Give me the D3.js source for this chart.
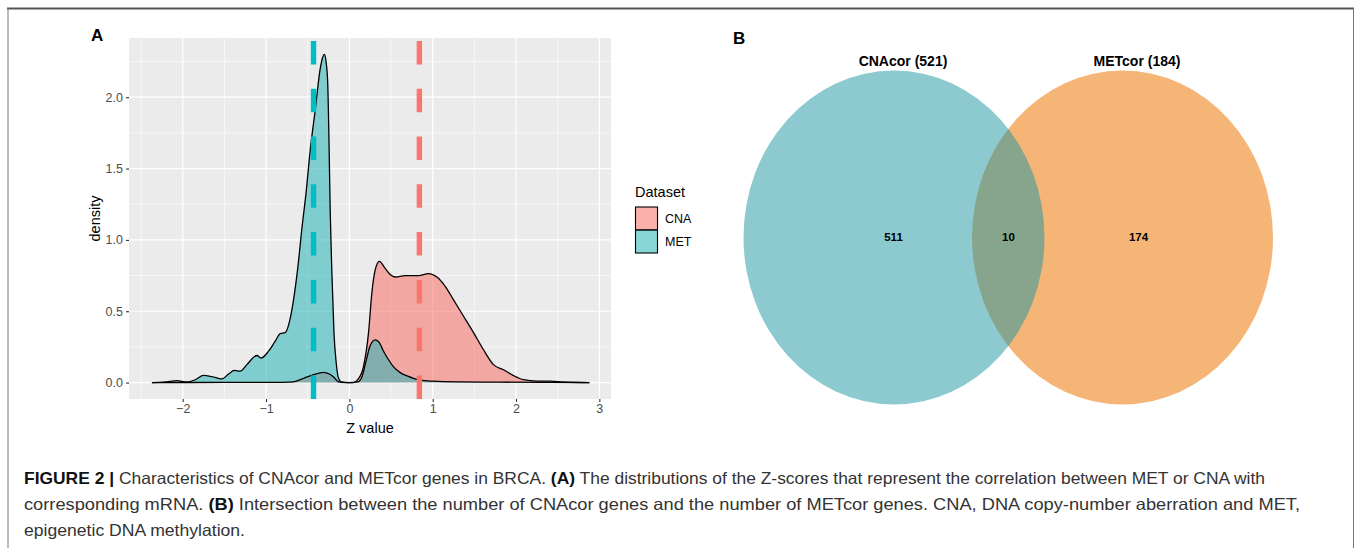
<!DOCTYPE html>
<html>
<head>
<meta charset="utf-8">
<script src="https://cdn.jsdelivr.net/npm/d3@7"></script>
<style>
  body { margin: 0; background: #fff; }
  svg text { font-family: "Liberation Sans", Arial, sans-serif; }
</style>
</head>
<body>
<div id="fig"></div>
<script>
// ---- data ----
const datasets = ["CNA", "MET"];
const metZ = [-2.37, -2.2, -2.07, -1.95, -1.85, -1.75, -1.65, -1.53, -1.45, -1.38, -1.31, -1.23, -1.11, -1.06, -0.97, -0.89, -0.83, -0.77, -0.71, -0.66, -0.62, -0.57, -0.52, -0.47, -0.41, -0.35, -0.32, -0.30, -0.28, -0.26, -0.245, -0.23, -0.21, -0.185, -0.16, -0.13, -0.10, 0.0, 0.10, 0.15, 0.20, 0.25, 0.31, 0.36, 0.41, 0.47, 0.53, 0.61, 0.70, 0.77, 0.87, 1.0, 1.3, 1.8, 2.4, 2.88];
const metDensity = [0, 0.005, 0.014, 0.004, 0.02, 0.05, 0.042, 0.026, 0.06, 0.085, 0.08, 0.126, 0.19, 0.172, 0.22, 0.29, 0.343, 0.35, 0.45, 0.62, 0.80, 1.08, 1.33, 1.63, 1.91, 2.20, 2.28, 2.30, 2.25, 2.10, 1.70, 1.20, 0.77, 0.35, 0.15, 0.03, 0.005, 0, 0.005, 0.04, 0.15, 0.26, 0.30, 0.28, 0.22, 0.16, 0.11, 0.07, 0.045, 0.03, 0.015, 0.01, 0.005, 0.003, 0.001, 0];
const cnaZ = [-2.37, -1.5, -0.8, -0.67, -0.55, -0.43, -0.31, -0.24, -0.19, -0.13, -0.05, 0.05, 0.10, 0.17, 0.23, 0.27, 0.31, 0.36, 0.43, 0.49, 0.55, 0.67, 0.83, 0.95, 1.05, 1.15, 1.25, 1.37, 1.49, 1.61, 1.73, 1.85, 1.97, 2.09, 2.25, 2.41, 2.57, 2.88];
const cnaDensity = [0, 0.001, 0.002, 0.005, 0.03, 0.056, 0.072, 0.06, 0.04, 0.005, 0, 0, 0.02, 0.114, 0.35, 0.63, 0.79, 0.85, 0.80, 0.757, 0.74, 0.75, 0.75, 0.764, 0.74, 0.675, 0.58, 0.465, 0.35, 0.23, 0.126, 0.09, 0.049, 0.02, 0.01, 0.01, 0.004, 0];
const meanZ = { CNA: 0.84, MET: -0.43 };
const xTicks = [-2, -1, 0, 1, 2, 3];
const yTicks = [0, 0.5, 1.0, 1.5, 2.0];

const vennSets = ["CNAcor (521)", "METcor (184)"];
const vennRegions = [511, 10, 174];

const captionLines = [
  [["FIGURE 2 |", true], [" Characteristics of CNAcor and METcor genes in BRCA. ", false], ["(A)", true], [" The distributions of the Z-scores that represent the correlation between MET or CNA with", false]],
  [["corresponding mRNA. ", false], ["(B)", true], [" Intersection between the number of CNAcor genes and the number of METcor genes. CNA, DNA copy-number aberration and MET,", false]],
  [["epigenetic DNA methylation.", false]]
];

// ---- layout ----
const W = 1357, H = 548;
const panel = { left: 129, right: 611, top: 38, bottom: 399 };
const colors = { CNA: "#F8766D", MET: "#00BFC4" };
const fills = { CNA: "#F86F66", MET: "#28B4BA" };

const svg = d3.select("#fig").append("svg").attr("width", W).attr("height", H);

// figure frame
svg.append("line").attr("x1", 7).attr("x2", 1354).attr("y1", 8.5).attr("y2", 8.5).attr("stroke", "#555").attr("stroke-width", 2);
svg.append("line").attr("x1", 8).attr("x2", 8).attr("y1", 8).attr("y2", H).attr("stroke", "#777").attr("stroke-width", 1);
svg.append("line").attr("x1", 1353.5).attr("x2", 1353.5).attr("y1", 8).attr("y2", H).attr("stroke", "#777").attr("stroke-width", 1);

// ---- panel A ----
const x = d3.scaleLinear().domain([-2.645, 3.14]).range([panel.left, panel.right]);
const y = d3.scaleLinear().domain([-0.115, 2.415]).range([panel.bottom, panel.top]);

svg.append("text").attr("x", 91).attr("y", 41).attr("font-size", 17).attr("font-weight", "bold").text("A");

svg.append("rect").attr("x", panel.left).attr("y", panel.top)
  .attr("width", panel.right - panel.left).attr("height", panel.bottom - panel.top).attr("fill", "#EBEBEB");

const g = svg.append("g");
const xMinor = xTicks.slice(0, -1).map(d => d + 0.5).concat([xTicks[0] - 0.5]);
const yMinor = yTicks.slice(0, -1).map(d => d + 0.25).concat([2.25]);
g.selectAll(".xminor").data(xMinor).enter().append("line")
  .attr("x1", d => x(d)).attr("x2", d => x(d)).attr("y1", panel.top).attr("y2", panel.bottom)
  .attr("stroke", "#fff").attr("stroke-width", 0.6);
g.selectAll(".yminor").data(yMinor).enter().append("line")
  .attr("y1", d => y(d)).attr("y2", d => y(d)).attr("x1", panel.left).attr("x2", panel.right)
  .attr("stroke", "#fff").attr("stroke-width", 0.6);
g.selectAll(".xmajor").data(xTicks).enter().append("line")
  .attr("x1", d => x(d)).attr("x2", d => x(d)).attr("y1", panel.top).attr("y2", panel.bottom)
  .attr("stroke", "#fff").attr("stroke-width", 1.2);
g.selectAll(".ymajor").data(yTicks).enter().append("line")
  .attr("y1", d => y(d)).attr("y2", d => y(d)).attr("x1", panel.left).attr("x2", panel.right)
  .attr("stroke", "#fff").attr("stroke-width", 1.2);

// densities
const series = {
  CNA: cnaZ.map((z, i) => [z, cnaDensity[i]]),
  MET: metZ.map((z, i) => [z, metDensity[i]])
};
const area = d3.area().x(d => x(d[0])).y0(y(0)).y1(d => y(d[1])).curve(d3.curveMonotoneX);
const line = d3.line().x(d => x(d[0])).y(d => y(d[1])).curve(d3.curveMonotoneX);

datasets.forEach(k => {
  svg.append("path").datum(series[k]).attr("d", area)
    .attr("fill", fills[k]).attr("fill-opacity", 0.55);
});
datasets.forEach(k => {
  svg.append("path").datum(series[k]).attr("d", line)
    .attr("fill", "none").attr("stroke", "#000").attr("stroke-width", 1.3);
});

// mean lines (dash pattern starts at the bottom like ggplot)
datasets.forEach(k => {
  svg.append("line")
    .attr("x1", x(meanZ[k])).attr("x2", x(meanZ[k]))
    .attr("y1", panel.bottom).attr("y2", panel.top)
    .attr("stroke", colors[k]).attr("stroke-width", 5.4)
    .attr("stroke-dasharray", "23.5 24.3");
});

// axes
const xAxis = svg.append("g").attr("transform", `translate(0,${panel.bottom})`)
  .call(d3.axisBottom(x).tickValues(xTicks).tickSize(3).tickPadding(2)
    .tickFormat(d => d < 0 ? "\u2212" + Math.abs(d) : d));
const yAxis = svg.append("g").attr("transform", `translate(${panel.left},0)`)
  .call(d3.axisLeft(y).tickValues(yTicks).tickSize(3).tickPadding(3).tickFormat(d3.format(".1f")));
[xAxis, yAxis].forEach(a => {
  a.select(".domain").remove();
  a.selectAll(".tick line").attr("stroke", "#333").attr("stroke-width", 1.1);
  a.selectAll(".tick text").attr("fill", "#4D4D4D").attr("font-size", 12.5)
    .attr("font-family", "Liberation Sans, Arial, sans-serif");
});

svg.append("text").attr("x", (panel.left + panel.right) / 2).attr("y", 433)
  .attr("text-anchor", "middle").attr("font-size", 14.5).text("Z value");
svg.append("text").attr("transform", `translate(100,${(panel.top + panel.bottom) / 2}) rotate(-90)`)
  .attr("text-anchor", "middle").attr("font-size", 14.5).text("density");

// legend
const leg = svg.append("g").attr("transform", "translate(635,0)");
leg.append("text").attr("x", 0).attr("y", 197).attr("font-size", 14.5).text("Dataset");
datasets.forEach((k, i) => {
  const top = 207 + i * 23;
  leg.append("rect").attr("x", 0.5).attr("y", top).attr("width", 22).attr("height", 23)
    .attr("fill", fills[k]).attr("fill-opacity", 0.55)
    .attr("stroke", "#000").attr("stroke-width", 1.1);
  leg.append("text").attr("x", 30).attr("y", top + 16).attr("font-size", 12.5).text(k);
});

// ---- panel B: Venn ----
svg.append("text").attr("x", 733).attr("y", 44).attr("font-size", 17).attr("font-weight", "bold").text("B");

const venn = [
  { cx: 1122.5, cy: 237.5, fill: "#F5B576", op: 1 },
  { cx: 894, cy: 237.5, fill: "#1A96A2", op: 0.5 }
];
venn.forEach(v => {
  svg.append("ellipse").attr("cx", v.cx).attr("cy", v.cy).attr("rx", 150.5).attr("ry", 167)
    .attr("fill", v.fill).attr("fill-opacity", v.op);
});
const titleX = [903, 1137];
vennSets.forEach((s, i) => {
  svg.append("text").attr("x", titleX[i]).attr("y", 66).attr("text-anchor", "middle")
    .attr("font-size", 14).attr("font-weight", "bold").text(s);
});
const regionX = [893.5, 1008.5, 1138.5];
vennRegions.forEach((n, i) => {
  svg.append("text").attr("x", regionX[i]).attr("y", 241).attr("text-anchor", "middle")
    .attr("font-size", 11.5).attr("font-weight", "bold").text(n);
});

// ---- caption ----
const lineWidths = [1241, 1276, 221];
captionLines.forEach((parts, i) => {
  const t = svg.append("text").attr("x", 24).attr("y", 484 + i * 26)
    .attr("font-size", 16.5).attr("fill", "#333")
    .attr("font-family", "'Liberation Sans Narrow', 'Liberation Sans', Arial, sans-serif")
    .attr("textLength", lineWidths[i]).attr("lengthAdjust", "spacingAndGlyphs");
  parts.forEach(p => {
    t.append("tspan").attr("font-weight", p[1] ? "bold" : "normal")
      .attr("fill", p[1] ? "#111" : "#333").text(p[0]);
  });
});
</script>
</body>
</html>
